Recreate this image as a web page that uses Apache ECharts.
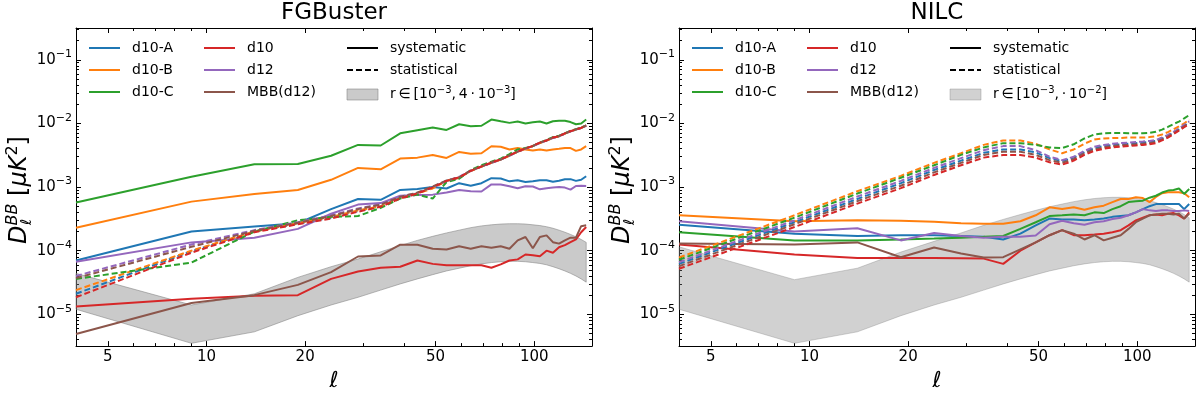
<!DOCTYPE html>
<html><head><meta charset="utf-8">
<script src="https://cdn.jsdelivr.net/npm/echarts@6/dist/echarts.min.js"></script>
<style>html,body{margin:0;padding:0;background:#fff}#c{width:1200px;height:397px}</style>
</head><body><div id="c"></div>
<script>
// ---------------- data ----------------
const ells = [4, 9, 14, 19, 24, 29, 34, 39, 44, 49, 54, 59, 64, 69, 74, 79, 84, 89, 94, 99, 104, 109, 114, 119, 124, 129, 134, 139, 144];

// FGBuster – systematic residuals
const fgSysA   = [7.0e-5, 2.0e-4, 2.4e-4, 2.7e-4, 4.5e-4, 6.5e-4, 6.3e-4, 9.0e-4, 9.3e-4, 1.0e-3, 9.5e-4, 1.15e-3, 1.05e-3, 1.15e-3, 1.38e-3, 1.36e-3, 1.23e-3, 1.28e-3, 1.2e-3, 1.23e-3, 1.28e-3, 1.28e-3, 1.21e-3, 1.26e-3, 1.33e-3, 1.33e-3, 1.25e-3, 1.3e-3, 1.48e-3];
const fgSysB   = [2.3e-4, 5.9e-4, 7.8e-4, 9.0e-4, 1.3e-3, 2.0e-3, 1.9e-3, 2.8e-3, 2.9e-3, 3.2e-3, 2.87e-3, 3.56e-3, 3.35e-3, 3.4e-3, 4.37e-3, 4.3e-3, 3.9e-3, 4.1e-3, 3.9e-3, 3.75e-3, 3.9e-3, 3.75e-3, 3.9e-3, 4.0e-3, 4.1e-3, 4.1e-3, 3.7e-3, 3.9e-3, 4.4e-3];
const fgSysC   = [5.7e-4, 1.45e-3, 2.28e-3, 2.3e-3, 3.1e-3, 4.6e-3, 4.5e-3, 7.0e-3, 7.8e-3, 8.6e-3, 7.9e-3, 9.7e-3, 9.0e-3, 9.2e-3, 1.15e-2, 1.08e-2, 1.02e-2, 1.07e-2, 1.0e-2, 1.04e-2, 1.07e-2, 1.0e-2, 1.08e-2, 1.1e-2, 1.1e-2, 1.05e-2, 9.7e-3, 1.0e-2, 1.15e-2];
const fgSysD10 = [1.32e-5, 1.75e-5, 1.95e-5, 2.0e-5, 3.6e-5, 4.7e-5, 5.4e-5, 5.6e-5, 7.0e-5, 6.2e-5, 5.9e-5, 5.9e-5, 5.9e-5, 5.9e-5, 5.4e-5, 6.1e-5, 7.0e-5, 7.3e-5, 8.7e-5, 8.5e-5, 8.2e-5, 1.0e-4, 9.3e-5, 1.13e-4, 1.22e-4, 1.36e-4, 1.5e-4, 1.95e-4, 2.35e-4];
const fgSysD12 = [6.7e-5, 1.35e-4, 1.6e-4, 2.2e-4, 3.8e-4, 5.3e-4, 5.6e-4, 7.3e-4, 7.5e-4, 7.6e-4, 8.2e-4, 9.0e-4, 8.6e-4, 8.5e-4, 1.1e-3, 1.1e-3, 1.03e-3, 9.6e-4, 1.03e-3, 1.02e-3, 9.2e-4, 9.6e-4, 9.8e-4, 1.0e-3, 9.8e-4, 9.1e-4, 1.04e-3, 1.05e-3, 1.04e-3];
const fgSysMBB = [4.9e-6, 1.5e-5, 2.0e-5, 2.9e-5, 4.6e-5, 8.1e-5, 8.4e-5, 1.24e-4, 1.24e-4, 1.07e-4, 1.04e-4, 1.17e-4, 1.07e-4, 1.17e-4, 1.11e-4, 1.17e-4, 1.07e-4, 1.45e-4, 1.64e-4, 1.09e-4, 1.64e-4, 1.74e-4, 1.36e-4, 1.29e-4, 1.45e-4, 1.6e-4, 1.6e-4, 2.43e-4, 2.5e-4];

// FGBuster – statistical residuals
const fgStatA   = [2.1e-5, 9.8e-5, 2.0e-4, 2.65e-4, 3.3e-4, 4.2e-4, 5.0e-4, 6.8e-4, 8.0e-4, 9.8e-4, 1.26e-3, 1.4e-3, 1.8e-3, 2.1e-3, 2.4e-3, 2.7e-3, 3.15e-3, 3.6e-3, 4.05e-3, 4.4e-3, 4.95e-3, 5.4e-3, 5.95e-3, 6.3e-3, 6.95e-3, 7.5e-3, 8.0e-3, 8.5e-3, 9.2e-3];
const fgStatB   = [2.4e-5, 1.0e-4, 2.0e-4, 2.7e-4, 3.4e-4, 4.3e-4, 5.0e-4, 6.7e-4, 7.9e-4, 9.5e-4, 1.25e-3, 1.4e-3, 1.78e-3, 2.1e-3, 2.4e-3, 2.7e-3, 3.1e-3, 3.6e-3, 4.0e-3, 4.4e-3, 4.9e-3, 5.4e-3, 5.9e-3, 6.3e-3, 6.9e-3, 7.5e-3, 8.0e-3, 8.5e-3, 9.2e-3];
const fgStatC   = [3.6e-5, 6.5e-5, 2.0e-4, 3.0e-4, 3.4e-4, 3.5e-4, 4.7e-4, 6.6e-4, 7.6e-4, 6.6e-4, 1.2e-3, 1.35e-3, 1.85e-3, 2.2e-3, 2.5e-3, 2.8e-3, 3.3e-3, 3.9e-3, 4.1e-3, 4.4e-3, 5.0e-3, 5.5e-3, 6.1e-3, 6.4e-3, 7.0e-3, 7.6e-3, 8.1e-3, 8.6e-3, 9.3e-3];
const fgStatD10 = [1.85e-5, 9.3e-5, 1.95e-4, 2.6e-4, 3.2e-4, 4.1e-4, 4.9e-4, 6.6e-4, 7.9e-4, 9.9e-4, 1.25e-3, 1.42e-3, 1.8e-3, 2.1e-3, 2.42e-3, 2.72e-3, 3.15e-3, 3.6e-3, 4.05e-3, 4.42e-3, 5.0e-3, 5.4e-3, 6.0e-3, 6.3e-3, 7.0e-3, 7.55e-3, 8.05e-3, 8.5e-3, 9.25e-3];
const fgStatD12 = [4.0e-5, 1.25e-4, 2.1e-4, 2.8e-4, 3.6e-4, 4.6e-4, 5.4e-4, 7.0e-4, 8.1e-4, 1.0e-3, 1.25e-3, 1.45e-3, 1.8e-3, 2.1e-3, 2.4e-3, 2.7e-3, 3.1e-3, 3.6e-3, 4.0e-3, 4.4e-3, 4.9e-3, 5.4e-3, 5.9e-3, 6.3e-3, 6.9e-3, 7.5e-3, 8.0e-3, 8.5e-3, 9.2e-3];
const fgStatMBB = [3.7e-5, 1.15e-4, 2.05e-4, 2.75e-4, 3.5e-4, 4.5e-4, 5.3e-4, 7.0e-4, 8.2e-4, 1.02e-3, 1.27e-3, 1.42e-3, 1.82e-3, 2.1e-3, 2.45e-3, 2.7e-3, 3.15e-3, 3.6e-3, 4.05e-3, 4.45e-3, 5.0e-3, 5.4e-3, 6.0e-3, 6.3e-3, 7.0e-3, 7.6e-3, 8.1e-3, 8.5e-3, 9.3e-3];

// NILC – systematic residuals
const nilcSysA   = [2.55e-4, 1.85e-4, 1.7e-4, 1.75e-4, 1.75e-4, 1.7e-4, 1.65e-4, 1.5e-4, 1.85e-4, 2.5e-4, 3.2e-4, 3.1e-4, 3.1e-4, 3.0e-4, 3.1e-4, 3.2e-4, 3.4e-4, 3.5e-4, 3.6e-4, 4.0e-4, 4.5e-4, 5.0e-4, 5.4e-4, 5.4e-4, 5.4e-4, 5.4e-4, 5.4e-4, 4.5e-4, 5.4e-4];
const nilcSysB   = [3.6e-4, 2.9e-4, 3.0e-4, 2.95e-4, 2.85e-4, 2.7e-4, 2.65e-4, 2.65e-4, 2.9e-4, 3.6e-4, 4.8e-4, 4.5e-4, 4.8e-4, 4.4e-4, 4.8e-4, 5.1e-4, 5.8e-4, 6.5e-4, 6.5e-4, 6.9e-4, 6.7e-4, 5.8e-4, 7.0e-4, 8.0e-4, 8.3e-4, 8.3e-4, 8.3e-4, 8.0e-4, 6.9e-4];
const nilcSysC   = [1.95e-4, 1.45e-4, 1.45e-4, 1.5e-4, 1.55e-4, 1.6e-4, 1.65e-4, 1.7e-4, 2.2e-4, 2.8e-4, 3.5e-4, 3.6e-4, 3.7e-4, 3.6e-4, 4.0e-4, 3.9e-4, 4.5e-4, 5.0e-4, 5.8e-4, 6.0e-4, 6.1e-4, 6.8e-4, 7.3e-4, 8.2e-4, 8.8e-4, 9.0e-4, 9.5e-4, 7.8e-4, 9.3e-4];
const nilcSysD10 = [1.25e-4, 8.7e-5, 7.7e-5, 7.7e-5, 7.7e-5, 7.6e-5, 7.5e-5, 6.2e-5, 1.0e-4, 1.35e-4, 1.75e-4, 2.1e-4, 1.75e-4, 1.75e-4, 1.8e-4, 1.85e-4, 1.95e-4, 2.1e-4, 2.5e-4, 3.0e-4, 3.3e-4, 3.6e-4, 3.7e-4, 3.6e-4, 3.8e-4, 3.9e-4, 3.6e-4, 3.2e-4, 4.0e-4];
const nilcSysD12 = [2.9e-4, 2.0e-4, 2.25e-4, 1.45e-4, 1.9e-4, 1.7e-4, 1.6e-4, 1.65e-4, 1.65e-4, 1.73e-4, 2.6e-4, 2.95e-4, 2.7e-4, 2.55e-4, 2.8e-4, 2.9e-4, 3.15e-4, 3.3e-4, 3.6e-4, 4.0e-4, 4.5e-4, 4.3e-4, 4.2e-4, 4.3e-4, 4.3e-4, 4.2e-4, 4.2e-4, 4.3e-4, 4.2e-4];
const nilcSysMBB = [1.3e-4, 1.25e-4, 1.35e-4, 7.9e-5, 1.12e-4, 9.0e-5, 7.8e-5, 7.9e-5, 1.05e-4, 1.35e-4, 1.75e-4, 2.1e-4, 1.85e-4, 1.5e-4, 1.75e-4, 1.45e-4, 1.6e-4, 1.75e-4, 2.2e-4, 2.8e-4, 3.2e-4, 3.6e-4, 3.7e-4, 3.8e-4, 3.8e-4, 3.7e-4, 3.8e-4, 3.2e-4, 3.8e-4];

// NILC – statistical residuals
const nilcStatA   = [6.2e-5, 2.8e-4, 6.5e-4, 1.15e-3, 1.85e-3, 2.6e-3, 3.45e-3, 3.9e-3, 3.9e-3, 3.5e-3, 2.85e-3, 2.55e-3, 2.9e-3, 3.55e-3, 4.1e-3, 4.4e-3, 4.6e-3, 4.7e-3, 4.8e-3, 4.9e-3, 5.0e-3, 5.1e-3, 5.3e-3, 5.8e-3, 6.4e-3, 7.2e-3, 8.1e-3, 9.2e-3, 1.05e-2];
const nilcStatB   = [7.8e-5, 3.6e-4, 8.6e-4, 1.5e-3, 2.4e-3, 3.4e-3, 4.6e-3, 5.4e-3, 5.4e-3, 4.8e-3, 3.9e-3, 3.4e-3, 3.9e-3, 4.8e-3, 5.6e-3, 5.8e-3, 5.9e-3, 5.9e-3, 6.0e-3, 6.0e-3, 6.0e-3, 6.1e-3, 6.3e-3, 6.7e-3, 7.3e-3, 8.1e-3, 9.0e-3, 1.0e-2, 1.15e-2];
const nilcStatC   = [7.2e-5, 3.3e-4, 7.9e-4, 1.4e-3, 2.2e-3, 3.2e-3, 4.2e-3, 4.9e-3, 4.9e-3, 4.6e-3, 4.2e-3, 4.1e-3, 4.7e-3, 5.8e-3, 6.7e-3, 7.0e-3, 7.1e-3, 7.1e-3, 7.0e-3, 7.0e-3, 7.0e-3, 7.1e-3, 7.4e-3, 8.0e-3, 8.8e-3, 9.8e-3, 1.07e-2, 1.2e-2, 1.35e-2];
const nilcStatD10 = [5.2e-5, 2.35e-4, 5.5e-4, 9.6e-4, 1.55e-3, 2.2e-3, 2.9e-3, 3.2e-3, 3.2e-3, 2.9e-3, 2.45e-3, 2.25e-3, 2.6e-3, 3.2e-3, 3.7e-3, 4.0e-3, 4.2e-3, 4.3e-3, 4.4e-3, 4.5e-3, 4.6e-3, 4.7e-3, 4.9e-3, 5.4e-3, 6.0e-3, 6.8e-3, 7.7e-3, 8.7e-3, 9.8e-3];
const nilcStatD12 = [6.6e-5, 3.0e-4, 7.1e-4, 1.25e-3, 2.0e-3, 2.85e-3, 3.8e-3, 4.4e-3, 4.4e-3, 3.8e-3, 3.0e-3, 2.65e-3, 3.0e-3, 3.7e-3, 4.3e-3, 4.6e-3, 4.8e-3, 4.9e-3, 5.0e-3, 5.1e-3, 5.2e-3, 5.3e-3, 5.5e-3, 6.0e-3, 6.6e-3, 7.4e-3, 8.3e-3, 9.5e-3, 1.08e-2];
const nilcStatMBB = [5.7e-5, 2.6e-4, 6.0e-4, 1.05e-3, 1.7e-3, 2.4e-3, 3.2e-3, 3.6e-3, 3.6e-3, 3.2e-3, 2.65e-3, 2.4e-3, 2.75e-3, 3.4e-3, 3.9e-3, 4.2e-3, 4.4e-3, 4.5e-3, 4.6e-3, 4.7e-3, 4.8e-3, 4.9e-3, 5.1e-3, 5.6e-3, 6.2e-3, 7.0e-3, 7.9e-3, 9.0e-3, 1.02e-2];

// primordial BB bands
const bandLow      = [1.2e-5, 3.5e-6, 5.3e-6, 9.5e-6, 1.4e-5, 1.85e-5, 2.4e-5, 3.0e-5, 3.6e-5, 4.2e-5, 4.8e-5, 5.3e-5, 5.8e-5, 6.2e-5, 6.5e-5, 6.7e-5, 6.8e-5, 6.8e-5, 6.7e-5, 6.5e-5, 6.3e-5, 6.0e-5, 5.6e-5, 5.2e-5, 4.8e-5, 4.4e-5, 4.0e-5, 3.6e-5, 3.2e-5];
const fgBandHigh   = [4.4e-5, 1.4e-5, 2.1e-5, 3.8e-5, 5.6e-5, 7.4e-5, 9.6e-5, 1.2e-4, 1.45e-4, 1.68e-4, 1.9e-4, 2.1e-4, 2.3e-4, 2.45e-4, 2.55e-4, 2.62e-4, 2.65e-4, 2.65e-4, 2.62e-4, 2.55e-4, 2.48e-4, 2.38e-4, 2.25e-4, 2.1e-4, 1.95e-4, 1.8e-4, 1.65e-4, 1.5e-4, 1.35e-4];
const nilcBandHigh = [1.15e-4, 3.5e-5, 5.3e-5, 9.5e-5, 1.4e-4, 1.9e-4, 2.5e-4, 3.1e-4, 3.7e-4, 4.3e-4, 4.9e-4, 5.4e-4, 5.9e-4, 6.3e-4, 6.6e-4, 6.8e-4, 6.9e-4, 6.9e-4, 6.8e-4, 6.6e-4, 6.4e-4, 6.1e-4, 5.7e-4, 5.3e-4, 4.9e-4, 4.5e-4, 4.1e-4, 3.7e-4, 3.3e-4];

// ticks
const xMajorTicks = [5, 10, 20, 50, 100];
const xMinorTicks = [4, 6, 7, 8, 9, 30, 40, 60, 70, 80, 90];
const yMajorTicks = [1e-5, 1e-4, 1e-3, 1e-2, 1e-1];
const yMinorTicks = [];
for (let k = -6; k <= -1; k++) for (let m = 2; m <= 9; m++) {
  const v = m * Math.pow(10, k);
  if (v > Math.pow(10, -5.5) && v < Math.pow(10, -0.5)) yMinorTicks.push(v);
}

// ---------------- styling ----------------
const FONT = 'DejaVu Sans';
const COL = { A: '#1f77b4', B: '#ff7f0e', C: '#2ca02c', D10: '#d62728', D12: '#9467bd', MBB: '#8c564b' };
const X_MIN = 4, X_MAX = 150, Y_MIN = Math.pow(10, -5.5), Y_MAX = Math.pow(10, -0.5);
const LW = 2;
const grids = [
  { left: 76, top: 28, width: 516, height: 321 },
  { left: 679, top: 28, width: 516, height: 321 }
];

const tickStyle = { color: '#000', width: 1 };
function xAxes(g) {
  const base = { type: 'log', logBase: 10, min: X_MIN, max: X_MAX, gridIndex: g, splitLine: { show: false } };
  return [
    Object.assign({}, base, {
      position: 'bottom',
      axisLine: { show: true, lineStyle: { color: '#000', width: 1 } },
      axisTick: { show: true, inside: true, length: 5, customValues: xMajorTicks, lineStyle: tickStyle },
      axisLabel: { show: true, customValues: xMajorTicks, formatter: v => String(Math.round(v)), color: '#000', fontSize: 15, fontFamily: FONT, margin: 4 },
      name: 'ℓ', nameLocation: 'middle', nameGap: 20,
      nameTextStyle: { fontSize: 22, fontStyle: 'italic', fontFamily: FONT, color: '#000' }
    }),
    Object.assign({}, base, {
      position: 'bottom', axisLine: { show: false },
      axisTick: { show: true, inside: true, length: 3, customValues: xMinorTicks, lineStyle: tickStyle },
      axisLabel: { show: false }
    }),
    Object.assign({}, base, {
      position: 'top',
      axisLine: { show: true, lineStyle: { color: '#000', width: 1 } },
      axisTick: { show: true, inside: true, length: 5, customValues: xMajorTicks, lineStyle: tickStyle },
      axisLabel: { show: false }
    }),
    Object.assign({}, base, {
      position: 'top', axisLine: { show: false },
      axisTick: { show: true, inside: true, length: 3, customValues: xMinorTicks, lineStyle: tickStyle },
      axisLabel: { show: false }
    })
  ];
}
const supRich = {
  b: { fontSize: 15, fontFamily: FONT, color: '#000' },
  s: { fontSize: 11, fontFamily: FONT, color: '#000', padding: [0, 0, 11, 0] }
};
function yAxes(g) {
  const base = { type: 'log', logBase: 10, min: Y_MIN, max: Y_MAX, gridIndex: g, splitLine: { show: false } };
  return [
    Object.assign({}, base, {
      position: 'left',
      axisLine: { show: true, lineStyle: { color: '#000', width: 1 } },
      axisTick: { show: true, inside: true, length: 5, customValues: yMajorTicks, lineStyle: tickStyle },
      axisLabel: {
        show: true, customValues: yMajorTicks, margin: 4,
        formatter: v => '{b|10}{s|−' + Math.abs(Math.round(Math.log10(v))) + '}',
        rich: supRich
      }
    }),
    Object.assign({}, base, {
      position: 'left', axisLine: { show: false },
      axisTick: { show: true, inside: true, length: 3, customValues: yMinorTicks, lineStyle: tickStyle },
      axisLabel: { show: false }
    }),
    Object.assign({}, base, {
      position: 'right',
      axisLine: { show: true, lineStyle: { color: '#000', width: 1 } },
      axisTick: { show: true, inside: true, length: 5, customValues: yMajorTicks, lineStyle: tickStyle },
      axisLabel: { show: false }
    }),
    Object.assign({}, base, {
      position: 'right', axisLine: { show: false },
      axisTick: { show: true, inside: true, length: 3, customValues: yMinorTicks, lineStyle: tickStyle },
      axisLabel: { show: false }
    })
  ];
}

function lineSeries(name, values, color, dashed, g) {
  return {
    type: 'line', name: name, xAxisIndex: 4 * g, yAxisIndex: 4 * g,
    data: ells.map((l, i) => [l, values[i]]),
    symbol: 'none', showSymbol: false, silent: true, animation: false,
    lineStyle: { color: color, width: LW, type: dashed ? [6, 3] : 'solid' },
    itemStyle: { color: color }, z: dashed ? 4 : 3
  };
}
function bandSeries(name, low, high, g, fill, stroke) {
  return {
    type: 'custom', name: name, xAxisIndex: 4 * g, yAxisIndex: 4 * g, silent: true, animation: false, z: 1,
    data: ells.map((l, i) => [l, low[i], high[i]]),
    encode: { x: 0, y: [1, 2] },
    itemStyle: { color: fill },
    renderItem: function (params, api) {
      if (params.dataIndex !== 0) return null;
      const pts = [];
      for (let i = 0; i < ells.length; i++) pts.push(api.coord([ells[i], high[i]]));
      for (let i = ells.length - 1; i >= 0; i--) pts.push(api.coord([ells[i], low[i]]));
      return { type: 'polygon', shape: { points: pts }, style: { fill: fill, stroke: stroke, lineWidth: 1 } };
    }
  };
}

const BAND_FILL_L = 'rgba(128,128,128,0.42)', BAND_EDGE_L = 'rgba(128,128,128,0.55)';
const BAND_FILL_R = 'rgba(128,128,128,0.36)', BAND_EDGE_R = 'rgba(128,128,128,0.36)';

const series = [
  bandSeries('bandL', bandLow, fgBandHigh, 0, BAND_FILL_L, BAND_EDGE_L),
  bandSeries('bandR', bandLow, nilcBandHigh, 1, BAND_FILL_R, BAND_EDGE_R),
  // FGBuster
  lineSeries('d10-A', fgSysA, COL.A, false, 0),
  lineSeries('d10-B', fgSysB, COL.B, false, 0),
  lineSeries('d10-C', fgSysC, COL.C, false, 0),
  lineSeries('d10', fgSysD10, COL.D10, false, 0),
  lineSeries('d12', fgSysD12, COL.D12, false, 0),
  lineSeries('MBB(d12)', fgSysMBB, COL.MBB, false, 0),
  lineSeries('d10-A stat', fgStatA, COL.A, true, 0),
  lineSeries('d10-B stat', fgStatB, COL.B, true, 0),
  lineSeries('d10-C stat', fgStatC, COL.C, true, 0),
  lineSeries('d12 stat', fgStatD12, COL.D12, true, 0),
  lineSeries('MBB(d12) stat', fgStatMBB, COL.MBB, true, 0),
  lineSeries('d10 stat', fgStatD10, COL.D10, true, 0),
  // NILC
  lineSeries('d10-A', nilcSysA, COL.A, false, 1),
  lineSeries('d10-B', nilcSysB, COL.B, false, 1),
  lineSeries('d10-C', nilcSysC, COL.C, false, 1),
  lineSeries('d10', nilcSysD10, COL.D10, false, 1),
  lineSeries('d12', nilcSysD12, COL.D12, false, 1),
  lineSeries('MBB(d12)', nilcSysMBB, COL.MBB, false, 1),
  lineSeries('d10-A stat N', nilcStatA, COL.A, true, 1),
  lineSeries('d10-B stat N', nilcStatB, COL.B, true, 1),
  lineSeries('d10-C stat N', nilcStatC, COL.C, true, 1),
  lineSeries('d12 stat N', nilcStatD12, COL.D12, true, 1),
  lineSeries('MBB(d12) stat N', nilcStatMBB, COL.MBB, true, 1),
  lineSeries('d10 stat N', nilcStatD10, COL.D10, true, 1),
  // legend-only entries
  { type: 'line', name: 'systematic', xAxisIndex: 0, yAxisIndex: 0, data: [], symbol: 'none', lineStyle: { color: '#000', width: LW, type: 'solid' }, itemStyle: { color: '#000' } },
  { type: 'line', name: 'statistical', xAxisIndex: 0, yAxisIndex: 0, data: [], symbol: 'none', lineStyle: { color: '#000', width: LW, type: [6, 3] }, itemStyle: { color: '#000' } }
];

const bandLabels = {
  bandL: '{n|r\u2009∈\u2009[10}{s|−3}{n|,\u20094\u2009·\u200910}{s|−3}{n|]}',
  bandR: '{n|r\u2009∈\u2009[10}{s|−3}{n|,\u2009·\u200910}{s|−2}{n|]}'
};
function legendCol(left, names) {
  return {
    orient: 'vertical', left: left, top: 41, padding: 0,
    itemWidth: 31, itemHeight: 11, itemGap: 8, selectedMode: false,
    itemStyle: { opacity: 0 }, lineStyle: { width: LW },
    data: names,
    formatter: name => bandLabels[name] || name,
    textStyle: {
      color: '#000', fontSize: 14, fontFamily: FONT, padding: [0, 0, 0, 7],
      rich: {
        n: { fontSize: 14, fontFamily: FONT, color: '#000' },
        s: { fontSize: 10, fontFamily: FONT, color: '#000', padding: [0, 0, 9, 0] }
      }
    }
  };
}
function bandLegendItem(name, fill, edge) {
  return { name: name, icon: 'rect', itemStyle: { opacity: 1, color: fill, borderColor: edge, borderWidth: 1 } };
}
const legends = [
  legendCol(88, ['d10-A', 'd10-B', 'd10-C']),
  legendCol(203, ['d10', 'd12', 'MBB(d12)']),
  legendCol(346, ['systematic', 'statistical', bandLegendItem('bandL', BAND_FILL_L, BAND_EDGE_L)]),
  legendCol(691, ['d10-A', 'd10-B', 'd10-C']),
  legendCol(806, ['d10', 'd12', 'MBB(d12)']),
  legendCol(949, ['systematic', 'statistical', bandLegendItem('bandR', BAND_FILL_R, BAND_EDGE_R)])
];

function yNameGroup(cx, cy) {
  const x0 = -56;
  return {
    type: 'group', x: cx, y: cy, rotation: Math.PI / 2, silent: true,
    children: [
      { type: 'text', style: {
          x: x0, y: 0, align: 'left', verticalAlign: 'middle',
          text: '{d|D}{b|BB}{t| [}{m|μK}{c|2}{t|]}',
          rich: {
            d: { fontSize: 24, fontStyle: 'italic', fontFamily: FONT, fill: '#000', color: '#000' },
            b: { fontSize: 16, fontStyle: 'italic', fontFamily: FONT, fill: '#000', color: '#000', padding: [0, 0, 14, 0] },
            t: { fontSize: 24, fontFamily: FONT, fill: '#000', color: '#000' },
            m: { fontSize: 24, fontStyle: 'italic', fontFamily: FONT, fill: '#000', color: '#000' },
            c: { fontSize: 16, fontFamily: FONT, fill: '#000', color: '#000', padding: [0, 0, 14, 0] }
          }
        } },
      { type: 'text', style: {
          x: x0 + 19, y: 7, align: 'left', verticalAlign: 'middle',
          text: 'ℓ', fontSize: 15, fontStyle: 'italic', fontFamily: FONT, fill: '#000'
        } }
    ]
  };
}

const option = {
  animation: false,
  backgroundColor: '#fff',
  textStyle: { fontFamily: FONT },
  title: [
    { text: 'FGBuster', left: 334, top: 2, textAlign: 'center', padding: 0, textStyle: { fontSize: 23, fontWeight: 'normal', fontFamily: FONT, color: '#000' } },
    { text: 'NILC', left: 937, top: 2, textAlign: 'center', padding: 0, textStyle: { fontSize: 23, fontWeight: 'normal', fontFamily: FONT, color: '#000' } }
  ],
  grid: grids,
  xAxis: xAxes(0).concat(xAxes(1)),
  yAxis: yAxes(0).concat(yAxes(1)),
  legend: legends,
  series: series,
  graphic: [yNameGroup(20, 188), yNameGroup(623, 188)]
};

const chart = echarts.init(document.getElementById('c'), null, { renderer: 'canvas' });
chart.setOption(option);
</script>
</body></html>
